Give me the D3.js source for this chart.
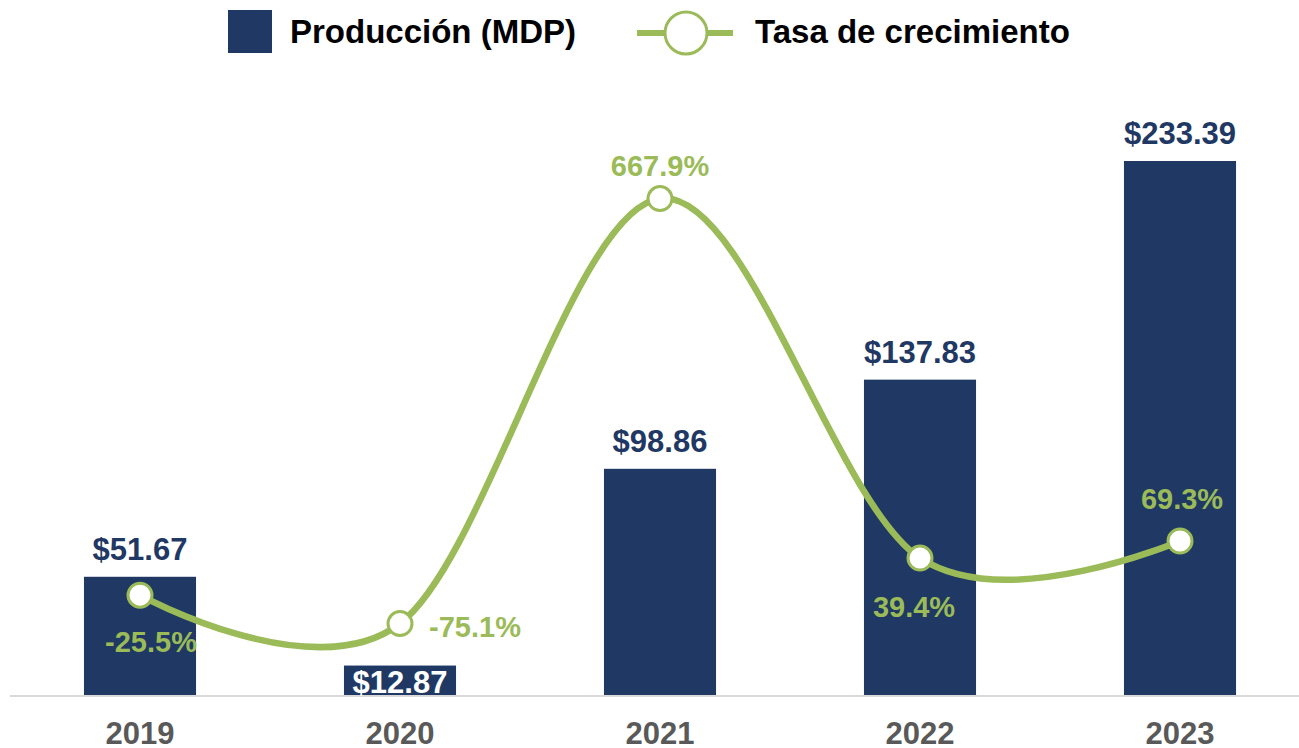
<!DOCTYPE html>
<html>
<head>
<meta charset="utf-8">
<script src="https://cdn.jsdelivr.net/npm/d3@7"></script>
<style>
  html, body { margin: 0; padding: 0; background: #fff; }
  svg { display: block; font-family: "Liberation Sans", Arial, sans-serif; }
</style>
</head>
<body>
<svg id="chart" width="1299" height="748"></svg>
<script>
// chart data
const years = ['2019', '2020', '2021', '2022', '2023'];
const produccion = [51.67, 12.87, 98.86, 137.83, 233.39];
const crecimiento = [-25.5, -75.1, 667.9, 39.4, 69.3];

// where each growth label sits relative to its point (style, not data)
const pctLabelOffset = [
  { dx: 11, dy: 57 },
  { dx: 75, dy: 13 },
  { dx: 0, dy: -23 },
  { dx: -6, dy: 59 },
  { dx: 2, dy: -32 }
];

const NAVY = '#1F3864';
const GREEN = '#9BBB59';

const svg = d3.select('#chart');
const W = 1299, H = 748;
const baseY = 695, topY = 8.6;

const x = d3.scaleBand()
  .domain(years)
  .range([10, 1310])
  .paddingInner(0.569)
  .paddingOuter(0.569 / 2);

const y = d3.scaleLinear().domain([0, 300]).range([baseY, topY]);
const y2 = d3.scaleLinear().domain([-200, 1000]).range([baseY, topY]);

const cx = d => x(d) + x.bandwidth() / 2;

// baseline
svg.append('line')
  .attr('x1', 10).attr('x2', W)
  .attr('y1', baseY + 1).attr('y2', baseY + 1)
  .attr('stroke', '#D9D9D9').attr('stroke-width', 2);

// bars
svg.append('g').selectAll('rect')
  .data(years)
  .join('rect')
  .attr('x', d => x(d))
  .attr('width', x.bandwidth())
  .attr('y', (d, i) => y(produccion[i]))
  .attr('height', (d, i) => baseY - y(produccion[i]))
  .attr('fill', NAVY);

// bar value labels; the small 2020 bar gets its label inside in white
svg.append('g').selectAll('text')
  .data(years)
  .join('text')
  .attr('x', d => cx(d))
  .attr('y', (d, i) => produccion[i] < 20 ? baseY - 2 : y(produccion[i]) - 17)
  .attr('text-anchor', 'middle')
  .attr('font-size', 31)
  .attr('font-weight', 'bold')
  .attr('fill', (d, i) => produccion[i] < 20 ? '#fff' : NAVY)
  .text((d, i) => '$' + produccion[i].toFixed(2));

// growth line
const line = d3.line()
  .x((d, i) => cx(years[i]))
  .y(d => y2(d))
  .curve(d3.curveCardinal.tension(0));

svg.append('path')
  .datum(crecimiento)
  .attr('d', line)
  .attr('fill', 'none')
  .attr('stroke', GREEN)
  .attr('stroke-width', 6.5)
  .attr('stroke-linecap', 'round');

svg.append('g').selectAll('circle')
  .data(crecimiento)
  .join('circle')
  .attr('cx', (d, i) => cx(years[i]))
  .attr('cy', d => y2(d))
  .attr('r', 12)
  .attr('fill', '#fff')
  .attr('stroke', GREEN)
  .attr('stroke-width', 3);

svg.append('g').selectAll('text')
  .data(crecimiento)
  .join('text')
  .attr('x', (d, i) => cx(years[i]) + pctLabelOffset[i].dx)
  .attr('y', (d, i) => y2(d) + pctLabelOffset[i].dy)
  .attr('text-anchor', 'middle')
  .attr('font-size', 29)
  .attr('font-weight', 'bold')
  .attr('fill', GREEN)
  .text(d => d.toFixed(1) + '%');

// x axis labels
svg.append('g').selectAll('text')
  .data(years)
  .join('text')
  .attr('x', d => cx(d))
  .attr('y', 744)
  .attr('text-anchor', 'middle')
  .attr('font-size', 31)
  .attr('font-weight', 'bold')
  .attr('fill', '#595959')
  .text(d => d);

// legend
const lg = svg.append('g');
lg.append('rect')
  .attr('x', 228).attr('y', 10).attr('width', 44).attr('height', 43)
  .attr('fill', NAVY);
lg.append('text')
  .attr('x', 290).attr('y', 43)
  .attr('font-size', 33).attr('font-weight', 'bold').attr('fill', '#000')
  .text('Producción (MDP)');
lg.append('line')
  .attr('x1', 637).attr('x2', 733).attr('y1', 33).attr('y2', 33)
  .attr('stroke', GREEN).attr('stroke-width', 6);
lg.append('circle')
  .attr('cx', 686).attr('cy', 33).attr('r', 21)
  .attr('fill', '#fff').attr('stroke', GREEN).attr('stroke-width', 3);
lg.append('text')
  .attr('x', 755).attr('y', 43)
  .attr('font-size', 33).attr('font-weight', 'bold').attr('fill', '#000')
  .text('Tasa de crecimiento');
</script>
</body>
</html>
